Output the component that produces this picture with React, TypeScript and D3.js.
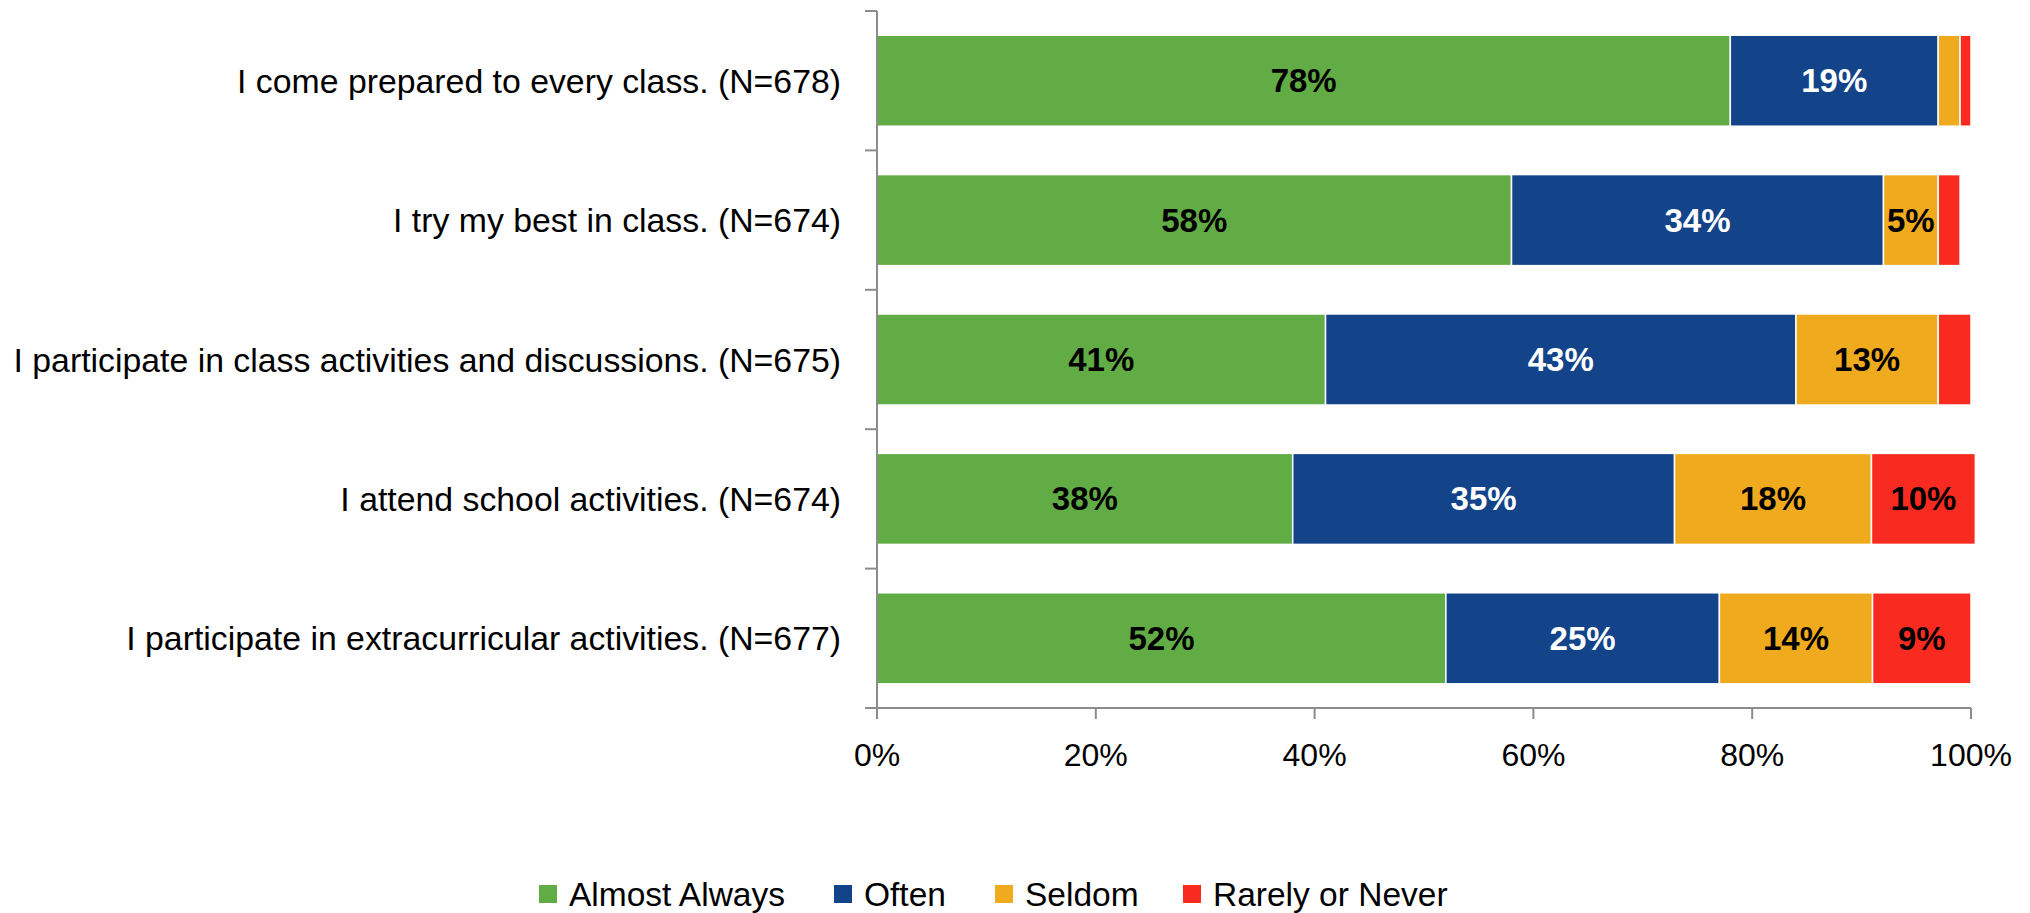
import React from "react";
import * as d3 from "d3";

const categories = [
  "I come prepared to every class. (N=678)",
  "I try my best in class. (N=674)",
  "I participate in class activities and discussions. (N=675)",
  "I attend school activities. (N=674)",
  "I participate in extracurricular activities. (N=677)",
];
const seriesNames = ["Almost Always", "Often", "Seldom", "Rarely or Never"];
const almostAlways = [78, 58, 41, 38, 52];
const often = [19, 34, 43, 34.9, 25];
const seldom = [2, 5, 13, 18, 14];
const rarelyNever = [1, 2, 3, 9.5, 9];
const xTicks = [0, 20, 40, 60, 80, 100];

const colors = ["#62AC46", "#134389", "#F0AA1E", "#F92B20"];
const labelColors = ["#000", "#fff", "#000", "#000"];
const legendX = [539, 834, 995, 1183];

const W = 2030;
const H = 913;
const FONT = "'Liberation Sans', Arial, sans-serif";

export default function App() {
  const series = [almostAlways, often, seldom, rarelyNever];
  const x = d3.scaleLinear().domain([0, 100]).range([877, 1971]);
  const y = d3
    .scaleBand<string>()
    .domain(categories)
    .range([11, 708])
    .paddingInner(0.347)
    .paddingOuter(0.1735);
  const step = y.step();
  const rows = categories.map((c, i) => {
    let acc = 0;
    return series.map((s, k) => {
      const v = s[i];
      const seg = { k, x0: acc, x1: acc + v, v };
      acc += v;
      return seg;
    });
  });
  const axisColor = "#8C8C8C";
  const boundaries = d3.range(categories.length + 1).map((i) => 11 + i * step);

  return (
    <svg
      width={W}
      height={H}
      style={{ position: "absolute", left: 0, top: 0, background: "#fff" }}
      fontFamily={FONT}
    >
      {rows.map((segs, i) =>
        segs.map((s) => (
          <g key={`${i}-${s.k}`}>
            <rect
              x={x(s.x0)}
              y={y(categories[i])}
              width={x(s.x1) - x(s.x0)}
              height={y.bandwidth()}
              fill={colors[s.k]}
              stroke="#fff"
              strokeWidth={1.5}
            />
            {s.v >= 4.5 && (
              <text
                x={(x(s.x0) + x(s.x1)) / 2}
                y={(y(categories[i]) as number) + y.bandwidth() / 2}
                textAnchor="middle"
                dominantBaseline="central"
                fontWeight="bold"
                fontSize={33}
                fill={labelColors[s.k]}
              >
                {Math.round(s.v)}%
              </text>
            )}
          </g>
        ))
      )}
      {/* y axis */}
      <line x1={877} x2={877} y1={11} y2={708} stroke={axisColor} strokeWidth={2} />
      {boundaries.map((b, i) => (
        <line key={i} x1={865} x2={877} y1={b} y2={b} stroke={axisColor} strokeWidth={2} />
      ))}
      {categories.map((c) => (
        <text
          key={c}
          x={841}
          y={(y(c) as number) + y.bandwidth() / 2}
          textAnchor="end"
          dominantBaseline="central"
          fontSize={33.8}
          fill="#000"
        >
          {c}
        </text>
      ))}
      {/* x axis */}
      <line x1={865} x2={x(100)} y1={708} y2={708} stroke={axisColor} strokeWidth={2} />
      {xTicks.map((t) => (
        <g key={t}>
          <line x1={x(t)} x2={x(t)} y1={708} y2={719} stroke={axisColor} strokeWidth={2} />
          <text
            x={x(t)}
            y={755}
            textAnchor="middle"
            dominantBaseline="central"
            fontSize={32}
            fill="#000"
          >
            {t}%
          </text>
        </g>
      ))}
      {/* legend */}
      {seriesNames.map((n, k) => (
        <g key={n}>
          <rect x={legendX[k]} y={885} width={18} height={18} fill={colors[k]} />
          <text
            x={legendX[k] + 30}
            y={894}
            dominantBaseline="central"
            fontSize={33.5}
            fill="#000"
          >
            {n}
          </text>
        </g>
      ))}
    </svg>
  );
}
